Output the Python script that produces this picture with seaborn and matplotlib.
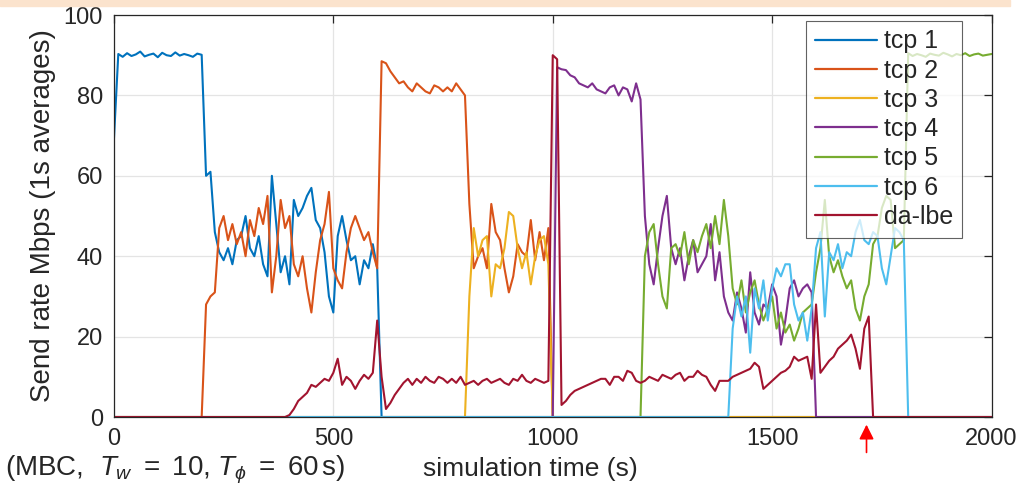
import numpy as np
import pandas as pd
import matplotlib
matplotlib.use("Agg")
import matplotlib.pyplot as plt
from matplotlib.patches import Rectangle
import seaborn as sns

# sampling grid of the 1 s averages (read every 10 s)
t = np.arange(0, 2001, 10)

names = ["tcp 1", "tcp 2", "tcp 3", "tcp 4", "tcp 5", "tcp 6", "da-lbe"]
colors = ["#0072BD", "#D95319", "#EDB120", "#7E2F8E", "#77AC30", "#4DBEEE", "#A2142F"]

# each flow: start time of its active period and the values read from there on
tcp1_start = 0
tcp1 = [69,
        90.3, 89.6, 90.5, 89.8, 90.2, 90.9, 89.7, 90.1, 90.4, 89.5,
        90.6, 90.0, 89.8, 90.7, 89.9, 90.3, 90.0, 89.6, 90.4, 90.1,
        60, 61, 46, 41, 39, 42, 38, 44, 45, 50,
        42, 40, 45, 38, 35, 60, 48, 36, 40, 33,
        54, 50, 52, 55, 57, 49, 47, 41, 30, 26,
        45, 50, 44, 39, 40, 33, 39, 37, 43, 37, 0]

tcp2_start = 200
tcp2 = [0, 28, 30, 31, 47, 50, 44, 48, 43, 46,
        40, 49, 45, 52, 48, 55, 31, 40, 54, 47,
        50, 38, 35, 40, 32, 26, 36, 44, 48, 56,
        37, 34, 32, 41, 47, 50, 47, 44, 46, 41, 37,
        88.5, 88, 86, 84.5, 83, 83.5, 82, 81, 83, 82,
        81, 80.5, 82.5, 82, 81, 82, 81, 83, 81.5, 80,
        53, 37, 40, 42, 37, 53, 46, 44, 37, 31,
        35, 43, 41, 40, 49, 39, 46, 39, 47, 0]

tcp3_start = 800
tcp3 = [0, 30, 47, 40, 44, 45, 30, 38, 37, 42, 51,
        50, 42, 37, 41, 33, 40, 44, 45, 38, 0]

tcp4_start = 1000
tcp4 = [0, 87, 86.5, 86.3, 85, 84.5, 83, 82.5, 82, 83, 81.5,
        81, 80.5, 82, 82.5, 80, 82, 81.5, 78.5, 83, 79,
        50, 38, 33, 42, 50, 55, 42, 38, 42, 34,
        40, 44, 36, 38, 40, 48, 34, 41, 30, 26,
        24, 31, 27, 21, 36, 26, 23, 28, 27, 33,
        30, 18, 24, 32, 34, 30, 32, 33, 31, 0]

tcp5_start = 1200
tcp5 = [0, 40, 46, 48, 38, 30, 27, 42, 43, 40, 46,
        38, 44, 41, 45, 48, 42, 50, 43, 54, 45,
        32, 28, 34, 26, 31, 34, 28, 24, 27, 30,
        22, 26, 21, 23, 19, 22, 26, 27, 28, 36,
        42, 54, 40, 36, 39, 35, 32, 34, 27, 24,
        30, 33, 43, 45, 52, 55, 54, 42, 43, 44,
        90.5, 89.8, 90.3, 90.0, 89.6, 90.4, 90.1, 89.9, 90.6, 90.2,
        89.7, 90.3, 90.0, 90.5, 89.8, 90.2, 90.4, 89.9, 90.1, 90.3]

tcp6_start = 1400
tcp6 = [0, 22, 30, 25, 30, 16, 32, 27, 34, 24, 32,
        37, 35, 38, 38, 28, 24, 26, 19, 27, 42,
        46, 25, 41, 39, 43, 37, 41, 40, 46, 49,
        44, 43, 46, 45, 37, 33, 40, 47, 46, 44, 0]

lbe_start = 400
lbe = [0.5, 2, 4, 5, 6, 8, 7.5, 8.5, 9.5, 9, 11,
       14.5, 8, 10, 9, 7, 9, 10.5, 9.5, 11, 24,
       10, 2, 3.5, 5.5, 7, 8.5, 9.5, 8, 9.5, 8.5,
       10, 9, 8.5, 10, 9.5, 8.5, 9.5, 8.5, 10, 8,
       8.5, 9, 8, 9, 9.5, 8.5, 9, 9.5, 8.5, 8,
       9.5, 9, 10.5, 9, 8.5, 9.5, 9, 8.5, 9, 90,
       89, 3, 4, 5.5, 6.5, 7, 7.5, 8, 8.5, 9,
       9.5, 9.5, 8, 10, 10, 9, 11.5, 11, 9, 8.5,
       9, 10, 9.5, 9, 10.5, 10, 9.5, 10.5, 11, 9,
       10, 10, 11.5, 10.5, 10, 8, 6.5, 9, 9, 9,
       10, 10.5, 11, 11.5, 12, 13.5, 12.5, 7, 8, 9,
       10, 11, 11.5, 12.5, 15, 14, 14.5, 15, 9.5, 28,
       11, 12.5, 14, 15, 17, 18, 19, 20.5, 17, 12,
       22, 25, 0]

starts = [tcp1_start, tcp2_start, tcp3_start, tcp4_start, tcp5_start, tcp6_start, lbe_start]
values = [tcp1, tcp2, tcp3, tcp4, tcp5, tcp6, lbe]

frames = []
for name, s, v in zip(names, starts, values):
    rate = np.zeros(len(t))
    i0 = s // 10
    rate[i0:i0 + len(v)] = v
    frames.append(pd.DataFrame({"time": t, "rate": rate, "flow": name}))
df = pd.concat(frames, ignore_index=True)

sns.set_theme(style="white")
plt.rcParams["font.family"] = ["Liberation Sans", "DejaVu Sans"]
plt.rcParams["mathtext.fontset"] = "custom"
plt.rcParams["mathtext.rm"] = "Liberation Sans"
plt.rcParams["mathtext.it"] = "Liberation Sans:italic"

fig = plt.figure(figsize=(10.17, 4.92), dpi=100)
ax = fig.add_axes([0.112, 0.1524, 0.863, 0.8171])

sns.lineplot(data=df, x="time", y="rate", hue="flow", hue_order=names,
             palette=colors, estimator=None, linewidth=1.5, ax=ax)

ax.set_xlim(0, 2000)
ax.set_ylim(0, 100)
ax.set_xticks([0, 500, 1000, 1500, 2000])
ax.set_yticks([0, 20, 40, 60, 80, 100])
ax.grid(True, color="#e4e4e4", linewidth=0.9)
ax.set_axisbelow(True)
for sp in ax.spines.values():
    sp.set_visible(True)
    sp.set_color("#262626")
    sp.set_linewidth(0.9)
ax.tick_params(direction="in", length=6, width=0.9, colors="#262626",
               labelsize=17, top=True, right=True, pad=8)

ax.set_ylabel("Send rate Mbps (1s averages)", fontsize=20, color="#262626")
ax.set_xlabel("simulation time (s)", fontsize=19, color="#262626")
ax.xaxis.set_label_coords(0.474, -0.1)
ax.yaxis.set_label_coords(-0.066, 0.5)

handles, labels = ax.get_legend_handles_labels()
leg = ax.legend(handles, labels, loc="upper right", bbox_to_anchor=(0.966, 0.986),
                borderaxespad=0, fontsize=18, handlelength=2.5, handletextpad=0.25,
                labelspacing=0.21, fancybox=False, framealpha=0.72, edgecolor="#262626",
                borderpad=0.35)
leg.get_frame().set_linewidth(0.8)
for h in leg.get_lines():
    h.set_linewidth(1.6)

# marker for the moment da-lbe leaves
ax.annotate("", xy=(1715, -0.012), xycoords=("data", "axes fraction"),
            xytext=(1715, -0.095), textcoords=("data", "axes fraction"),
            arrowprops=dict(arrowstyle="-|>", color="red", lw=1.2, mutation_scale=22),
            annotation_clip=False)

fig.text(0.005, 0.045, r"(MBC,  $T_w\ =\ 10$, $T_\phi\ =\ 60\,$s)", fontsize=20,
         color="#262626", va="center", ha="left")

fig.patches.append(Rectangle((0, 1 - 6 / 492), 1010 / 1017, 6 / 492,
                             transform=fig.transFigure, color="#fbe3cd", zorder=0))

fig.savefig("out.png", dpi=100)
